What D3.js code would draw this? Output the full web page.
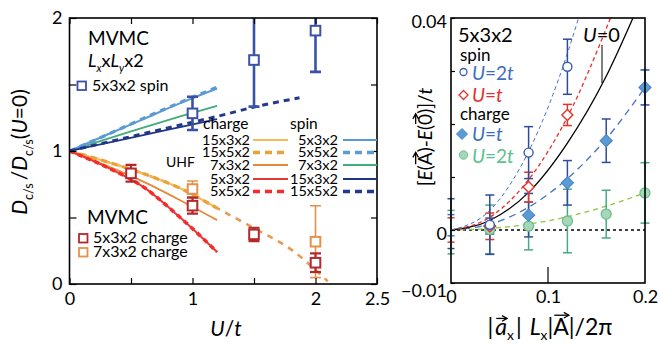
<!DOCTYPE html>
<html><head><meta charset="utf-8">
<script src="https://cdn.jsdelivr.net/npm/d3@7"></script>
<style>body{margin:0;background:#fff} text{font-family:Lato,'Open Sans',sans-serif}</style>
</head><body><script>
// ---------- LEFT PANEL DATA ----------
const leftXTicks = [0, 0.5, 1, 1.5, 2, 2.5];
const leftXLabels = [0, 1, 2, 2.5];
const leftYTicks = [0, 0.5, 1, 1.5, 2];
const leftYLabels = [0, 1, 2];

const mvmcSpinU = [1, 1.5, 2];
const mvmcSpinD = [1.283, 1.684, 1.905];
const mvmcSpinErr = [0.125, 0.35, 0.31];

const mvmcCharge5U = [0.5, 1, 1.5, 2];
const mvmcCharge5D = [0.832, 0.589, 0.373, 0.16];
const mvmcCharge5Err = [0.063, 0.06, 0.05, 0.07];

const mvmcCharge7U = [1, 2];
const mvmcCharge7D = [0.714, 0.318];
const mvmcCharge7Err = [0.06, 0.27];

const uhfU = [0, 0.3, 0.6, 0.9, 1.2];
const uhfCharge15x3 = [1, 0.92, 0.83, 0.72, 0.57];
const uhfCharge7x3 = [1, 0.89, 0.77, 0.63, 0.48];
const uhfCharge5x3 = [1, 0.88, 0.73, 0.5, 0.24];
const uhfCharge5x5 = [1, 0.88, 0.73, 0.5, 0.24];
const uhfSpin5x3 = [1, 1.12, 1.24, 1.36, 1.47];
const uhfSpin5x5 = [1, 1.12, 1.245, 1.365, 1.48];
const uhfSpin7x3 = [1, 1.09, 1.175, 1.26, 1.34];
const uhfSpin15x3 = [1, 1.06, 1.12, 1.18, 1.24];
const uhfChargeLongU = [0, 0.3, 0.6, 0.9, 1.2, 1.5, 1.8, 2.1];
const uhfCharge15x5 = [1, 0.92, 0.83, 0.72, 0.57, 0.42, 0.26, 0.02];
const uhfSpinLongU = [0, 0.3, 0.6, 0.9, 1.2, 1.5, 1.87];
const uhfSpin15x5 = [1, 1.065, 1.13, 1.195, 1.26, 1.33, 1.40];

const chargeNames = ["15x3x2", "15x5x2", "7x3x2", "5x3x2", "5x5x2"];
const spinNames = ["5x3x2", "5x5x2", "7x3x2", "15x3x2", "15x5x2"];

// ---------- RIGHT PANEL DATA ----------
const rightXTicks = [0, 0.1, 0.2];
const rightYTicks = [-0.01, 0, 0.01, 0.02, 0.03, 0.04];
const rightYLabels = [-0.01, 0, 0.04];

const spin2tQ = [0.04, 0.08, 0.12];
const spin2tE = [0.001, 0.0146, 0.0308];
const spin2tErr = [0.0056, 0.0049, 0.0052];

const spin1tQ = [0.04, 0.08, 0.12];
const spin1tE = [0.0007, 0.0081, 0.0217];
const spin1tErr = [0.0025, 0.0028, 0.002];

const charge1tQ = [0.04, 0.08, 0.12, 0.16, 0.2];
const charge1tE = [0.00075, 0.0028, 0.0089, 0.01685, 0.0269];
const charge1tErr = [0.0015, 0.0041, 0.0042, 0.0041, 0.0033];

const charge2tQ = [0.04, 0.08, 0.12, 0.16, 0.2];
const charge2tE = [0.0001, 0.00075, 0.0017, 0.003, 0.007];
const charge2tErr = [0.0046, 0.0045, 0.006, 0.0045, 0.0057];

// error bars at q = 0 (markers hidden)
const zeroE = [0.0012, 0.0009, 0.0, -0.0004];
const zeroErr = [0.0047, 0.002, 0.0023, 0.0041];

const fitU0Q = [0, 0.04, 0.08, 0.12, 0.16, 0.1876];
const fitU0E = [0, 0.0018, 0.0071, 0.0164, 0.029, 0.04];
const fitSpin2tQ = [0, 0.04, 0.08, 0.12, 0.1315];
const fitSpin2tE = [0, 0.0037, 0.0148, 0.0333, 0.04];
const fitSpin1tQ = [0, 0.04, 0.08, 0.12, 0.1644];
const fitSpin1tE = [0, 0.0024, 0.0095, 0.0213, 0.04];
const fitCharge1tQ = [0, 0.04, 0.08, 0.12, 0.16, 0.2];
const fitCharge1tE = [0, 0.0011, 0.0043, 0.0097, 0.0172, 0.0269];
const fitCharge2tQ = [0, 0.04, 0.08, 0.12, 0.16, 0.2];
const fitCharge2tE = [0, 0.0003, 0.0011, 0.0025, 0.0045, 0.007];

// ---------- SETUP ----------
const W = 660, H = 345;
const svg = d3.select("body").append("svg").attr("width", W).attr("height", H);
svg.append("rect").attr("width", W).attr("height", H).attr("fill", "#fff");
const FONT = "Lato,'Open Sans',sans-serif";

function rich(parent, parts, x, y, size, anchor, rotate, color) {
  const g = parent.append("g").attr("transform", `translate(${x},${y})` + (rotate ? ` rotate(${rotate})` : ""));
  const inner = g.append("g");
  let cx = 0;
  parts.forEach(p => {
    const fs = p.sub ? size * 0.6 : size;
    const dy = p.sub ? size * (p.subDy || 0.28) : 0;
    const t = inner.append("text").attr("x", cx).attr("y", dy)
      .attr("font-size", fs).attr("font-style", p.it ? "italic" : "normal")
      .attr("fill", p.color || color || "#000").text(p.t);
    const w = t.node().getComputedTextLength();
    if (p.arrow) {
      const ay = -size * (p.ah || 0.86), x0 = cx + (p.ax0 || 1), x1 = cx + w + (p.ax1 || 0);
      inner.append("line").attr("x1", x0).attr("x2", x1).attr("y1", ay).attr("y2", ay)
        .attr("stroke", "#000").attr("stroke-width", 1.3);
      inner.append("path").attr("d", `M${x1 - 5},${ay - 2.8}L${x1},${ay}L${x1 - 5},${ay + 2.8}`)
        .attr("fill", "none").attr("stroke", "#000").attr("stroke-width", 1.3);
    }
    cx += w + (p.sp || 0);
  });
  const shift = anchor === "middle" ? -cx / 2 : anchor === "end" ? -cx : 0;
  inner.attr("transform", `translate(${shift},0)`);
  return g;
}

// ---------- LEFT PANEL ----------
const xL = d3.scaleLinear().domain([0, 2.5]).range([69.5, 377]);
const yL = d3.scaleLinear().domain([0, 2]).range([284, 18]);
const gL = svg.append("g");
const defs = svg.append("defs");
defs.append("clipPath").attr("id", "clipL").append("rect")
  .attr("x", xL(0)).attr("y", yL(2)).attr("width", xL(2.5) - xL(0)).attr("height", yL(0) - yL(2));

const lineL = d3.line().x(d => xL(d[0])).y(d => yL(d[1])).curve(d3.curveMonotoneX);
const zip = (a, b) => a.map((v, i) => [v, b[i]]);
const plotL = gL.append("g").attr("clip-path", "url(#clipL)");

const C = {
  c15x3: "#f3bd55", c15x5: "#e8a236", c15x5ext: "#e99a52", c7x3: "#e48a3a", c5x3: "#e23a35", c5x5: "#fb2a2a",
  s5x3: "#5b9bd5", s5x5: "#5b9bd5", s7x3: "#43ad78", s15x3: "#1f3585", s15x5: "#22398f"
};
const uhfSeries = [
  { x: uhfChargeLongU, y: uhfCharge15x5, c: C.c15x5ext, w: 2.6, dash: "6,6" },
  { x: uhfU, y: uhfCharge15x3, c: C.c15x3, w: 2, dash: null },
  { x: uhfU, y: uhfCharge15x5, c: C.c15x5, w: 3.2, dash: "6,5" },
  { x: uhfU, y: uhfCharge7x3, c: C.c7x3, w: 1.8, dash: null },
  { x: uhfU, y: uhfCharge5x3, c: C.c5x3, w: 2, dash: null },
  { x: uhfU, y: uhfCharge5x5, c: C.c5x5, w: 3.5, dash: "5,4" },
  { x: uhfU, y: uhfSpin7x3, c: C.s7x3, w: 1.8, dash: null },
  { x: uhfU, y: uhfSpin5x3, c: C.s5x3, w: 2, dash: null },
  { x: uhfU, y: uhfSpin5x5, c: C.s5x5, w: 3.2, dash: "6,5" },
  { x: uhfSpinLongU, y: uhfSpin15x5, c: C.s15x5, w: 3, dash: "6,5" },
  { x: uhfU, y: uhfSpin15x3, c: C.s15x3, w: 1.8, dash: null },
];
uhfSeries.forEach(s => {
  plotL.append("path").attr("d", lineL(zip(s.x, s.y))).attr("fill", "none")
    .attr("stroke", s.c).attr("stroke-width", s.w).attr("stroke-dasharray", s.dash);
});

function errSquares(U, D, E, color, sw) {
  U.forEach((u, i) => {
    const x = xL(u);
    plotL.append("line").attr("x1", x).attr("x2", x).attr("y1", yL(D[i] - E[i])).attr("y2", yL(D[i] + E[i]))
      .attr("stroke", color).attr("stroke-width", sw);
    [D[i] - E[i], D[i] + E[i]].forEach(v => plotL.append("line").attr("x1", x - 5.5).attr("x2", x + 5.5)
      .attr("y1", yL(v)).attr("y2", yL(v)).attr("stroke", color).attr("stroke-width", sw));
    plotL.append("rect").attr("x", x - 4.8).attr("y", yL(D[i]) - 4.8).attr("width", 9.6).attr("height", 9.6)
      .attr("fill", "#fff").attr("stroke", color).attr("stroke-width", 2);
  });
}
errSquares(mvmcCharge7U, mvmcCharge7D, mvmcCharge7Err, "#e8904a", 1.6);
errSquares(mvmcCharge5U, mvmcCharge5D, mvmcCharge5Err, "#b3282c", 2.2);
errSquares(mvmcSpinU, mvmcSpinD, mvmcSpinErr, "#3a52a5", 2.6);

// axes left
const axLB = d3.axisBottom(xL).tickValues(leftXTicks).tickSizeInner(-6).tickSizeOuter(0).tickPadding(8)
  .tickFormat(v => leftXLabels.includes(v) ? String(v) : "");
const axLT = d3.axisTop(xL).tickValues(leftXTicks).tickSizeInner(-6).tickSizeOuter(0).tickFormat("");
const axLL = d3.axisLeft(yL).tickValues(leftYTicks).tickSizeInner(-7).tickSizeOuter(0).tickPadding(7)
  .tickFormat(v => leftYLabels.includes(v) ? String(v) : "");
const axLR = d3.axisRight(yL).tickValues(leftYTicks).tickSizeInner(-6).tickSizeOuter(0).tickFormat("");
[[axLB, `translate(0,${yL(0)})`], [axLT, `translate(0,${yL(2)})`], [axLL, `translate(${xL(0)},0)`], [axLR, `translate(${xL(2.5)},0)`]]
  .forEach(([ax, tr]) => {
    const g = gL.append("g").attr("transform", tr).call(ax);
    g.selectAll("text").attr("font-size", 18).attr("font-family", FONT).attr("fill", "#000");
    g.selectAll("line").attr("stroke", "#000").attr("stroke-width", 1.2);
    g.select(".domain").remove();
  });
gL.append("rect").attr("x", xL(0)).attr("y", yL(2)).attr("width", xL(2.5) - xL(0)).attr("height", yL(0) - yL(2))
  .attr("fill", "none").attr("stroke", "#000").attr("stroke-width", 1.6);

// left labels
rich(gL, [{ t: "U", it: true }, { t: "/" }, { t: "t", it: true }], 226, 336, 21, "middle");
rich(gL, [{ t: "D", it: true }, { t: "c/s", sub: true, sp: 3 }, { t: "/" }, { t: "D", it: true }, { t: "c/s", sub: true }, { t: "(" }, { t: "U", it: true }, { t: "=0)" }],
  27, 152, 21, "middle", -90);

// legends left
gL.append("text").attr("x", 88).attr("y", 45).attr("font-size", 19).text("MVMC");
rich(gL, [{ t: "L", it: true }, { t: "x", sub: true, it: true }, { t: "x" }, { t: "L", it: true }, { t: "y", sub: true, it: true }, { t: "x2" }], 88, 67, 18, "start");
gL.append("rect").attr("x", 77.5).attr("y", 81.5).attr("width", 8.5).attr("height", 8.5).attr("fill", "#fff").attr("stroke", "#3a52a5").attr("stroke-width", 1.8);
gL.append("text").attr("x", 92).attr("y", 91).attr("font-size", 16).text("5x3x2 spin");

gL.append("text").attr("x", 87).attr("y", 224).attr("font-size", 19).text("MVMC");
gL.append("rect").attr("x", 79).attr("y", 234).attr("width", 8.5).attr("height", 8.5).attr("fill", "#fff").attr("stroke", "#b3282c").attr("stroke-width", 1.8);
gL.append("text").attr("x", 93).attr("y", 243).attr("font-size", 16).text("5x3x2 charge");
gL.append("rect").attr("x", 79).attr("y", 248).attr("width", 8.5).attr("height", 8.5).attr("fill", "#fff").attr("stroke", "#e8904a").attr("stroke-width", 1.8);
gL.append("text").attr("x", 93).attr("y", 257).attr("font-size", 16).text("7x3x2 charge");

gL.append("text").attr("x", 166).attr("y", 167).attr("font-size", 14).text("UHF");
gL.append("text").attr("x", 203).attr("y", 129).attr("font-size", 15.5).text("charge");
gL.append("text").attr("x", 290).attr("y", 129).attr("font-size", 15.5).text("spin");
const rowY = [140, 152.5, 165, 179, 191.5];
const chargeStyle = [
  { c: C.c15x3, w: 2, dash: null }, { c: C.c15x5, w: 3.5, dash: "7,5" }, { c: C.c7x3, w: 1.8, dash: null },
  { c: C.c5x3, w: 2, dash: null }, { c: C.c5x5, w: 3.5, dash: "7,5" }];
const spinStyle = [
  { c: C.s5x3, w: 2, dash: null }, { c: C.s5x5, w: 3.5, dash: "7,5" }, { c: C.s7x3, w: 1.8, dash: null },
  { c: C.s15x3, w: 2, dash: null }, { c: C.s15x5, w: 3.5, dash: "7,5" }];
chargeNames.forEach((n, i) => {
  gL.append("text").attr("x", 250).attr("y", rowY[i] + 4.8).attr("text-anchor", "end").attr("font-size", 13.5)
    .attr("textLength", n.length === 6 ? 48 : 40).attr("lengthAdjust", "spacingAndGlyphs").text(n);
  gL.append("line").attr("x1", 253).attr("x2", 288).attr("y1", rowY[i]).attr("y2", rowY[i])
    .attr("stroke", chargeStyle[i].c).attr("stroke-width", chargeStyle[i].w).attr("stroke-dasharray", chargeStyle[i].dash);
});
spinNames.forEach((n, i) => {
  gL.append("text").attr("x", 338).attr("y", rowY[i] + 4.8).attr("text-anchor", "end").attr("font-size", 13.5)
    .attr("textLength", n.length === 6 ? 48 : 40).attr("lengthAdjust", "spacingAndGlyphs").text(n);
  gL.append("line").attr("x1", 343).attr("x2", 377).attr("y1", rowY[i]).attr("y2", rowY[i])
    .attr("stroke", spinStyle[i].c).attr("stroke-width", spinStyle[i].w).attr("stroke-dasharray", spinStyle[i].dash);
});

// ---------- RIGHT PANEL ----------
const xR = d3.scaleLinear().domain([0, 0.2]).range([451, 645]);
const yR = d3.scaleLinear().domain([-0.01, 0.04]).range([283, 18]);
const gR = svg.append("g");
defs.append("clipPath").attr("id", "clipR").append("rect")
  .attr("x", xR(0)).attr("y", yR(0.04)).attr("width", xR(0.2) - xR(0)).attr("height", yR(-0.01) - yR(0.04));
const plotR = gR.append("g").attr("clip-path", "url(#clipR)");
const lineR = d3.line().x(d => xR(d[0])).y(d => yR(d[1])).curve(d3.curveMonotoneX);

// zero line
plotR.append("line").attr("x1", xR(0)).attr("x2", xR(0.2)).attr("y1", yR(0)).attr("y2", yR(0))
  .attr("stroke", "#000").attr("stroke-width", 1.3).attr("stroke-dasharray", "3,3");

const RC = { spin2t: "#3a5fb0", spin2tErr: "#2f4c9c", spin1t: "#e2352c", ch1tFill: "#5b9bd5", ch1tStroke: "#4a86c8", ch1tErr: "#2f4c9c",
  ch2tFill: "#a6d7b8", ch2tStroke: "#6cbf8e", ch2tErr: "#4aa884", fitCh2t: "#8cc63f", fitBlue: "#4472c4", fitRed: "#ee2b2b" };

[[fitCharge2tQ, fitCharge2tE, RC.fitCh2t, "5,4", 1.3], [fitCharge1tQ, fitCharge1tE, RC.fitBlue, "7,5", 1.3],
 [fitU0Q, fitU0E, "#000", null, 1.3], [fitSpin1tQ, fitSpin1tE, RC.fitRed, "4,3", 1.3], [fitSpin2tQ, fitSpin2tE, RC.fitBlue, "4,3", 1]]
  .forEach(([q, e, c, dash, w]) => plotR.append("path").attr("d", lineR(zip(q, e))).attr("fill", "none")
    .attr("stroke", c).attr("stroke-width", w).attr("stroke-dasharray", dash));

// U=0 label and pointer
rich(gR, [{ t: "U", it: true }, { t: "=0" }], 583, 42, 20, "start");
gR.append("line").attr("x1", 602).attr("x2", 602).attr("y1", 45).attr("y2", 83).attr("stroke", "#000").attr("stroke-width", 1);

function errBars(Q, E, Er, color, cw) {
  Q.forEach((q, i) => {
    const x = xR(q);
    gR.append("line").attr("x1", x).attr("x2", x).attr("y1", yR(E[i] - Er[i])).attr("y2", yR(E[i] + Er[i]))
      .attr("stroke", color).attr("stroke-width", 1.5);
    [E[i] - Er[i], E[i] + Er[i]].forEach(v => gR.append("line").attr("x1", x - cw).attr("x2", x + cw)
      .attr("y1", yR(v)).attr("y2", yR(v)).attr("stroke", color).attr("stroke-width", 1.5));
  });
}
// q=0 bars
const zeroColors = [RC.spin2tErr, "#4a6fc0", RC.spin1t, RC.ch2tErr];
zeroE.forEach((e, i) => errBars([0], [e], [zeroErr[i]], zeroColors[i], 3.5));
errBars(charge2tQ, charge2tE, charge2tErr, RC.ch2tErr, 4.5);
errBars(charge1tQ, charge1tE, charge1tErr, RC.ch1tErr, 4.5);
errBars(spin1tQ, spin1tE, spin1tErr, RC.spin1t, 4.5);
errBars(spin2tQ, spin2tE, spin2tErr, RC.spin2tErr, 4.5);

const diamond = (x, y, r) => `M${x},${y - r}L${x + r},${y}L${x},${y + r}L${x - r},${y}Z`;
charge2tQ.forEach((q, i) => gR.append("circle").attr("cx", xR(q)).attr("cy", yR(charge2tE[i])).attr("r", 5)
  .attr("fill", RC.ch2tFill).attr("stroke", RC.ch2tStroke).attr("stroke-width", 1.3));
charge1tQ.forEach((q, i) => gR.append("path").attr("d", diamond(xR(q), yR(charge1tE[i]), 6))
  .attr("fill", RC.ch1tFill).attr("stroke", RC.ch1tStroke).attr("stroke-width", 1.2));
spin1tQ.forEach((q, i) => gR.append("path").attr("d", diamond(xR(q), yR(spin1tE[i]), 5.5))
  .attr("fill", "#fff").attr("stroke", RC.spin1t).attr("stroke-width", 1.4));
spin2tQ.forEach((q, i) => gR.append("circle").attr("cx", xR(q)).attr("cy", yR(spin2tE[i])).attr("r", 4.5)
  .attr("fill", "#fff").attr("stroke", RC.spin2t).attr("stroke-width", 1.4));

// axes right
const axRB = d3.axisBottom(xR).tickValues(rightXTicks).tickSizeInner(0).tickSizeOuter(0).tickPadding(7.5)
  .tickFormat(v => v === 0 ? "0" : d3.format(".1f")(v));
const axRL = d3.axisLeft(yR).tickValues(rightYTicks).tickSizeInner(-4).tickSizeOuter(0).tickPadding(4)
  .tickFormat(v => rightYLabels.includes(v) ? (v === 0 ? "0" : d3.format(".2f")(v)) : "");
const gRB = gR.append("g").attr("transform", `translate(0,${yR(-0.01)})`).call(axRB);
const gRL = gR.append("g").attr("transform", `translate(${xR(0)},0)`).call(axRL);
[gRB, gRL].forEach(g => {
  g.selectAll("text").attr("font-size", 18).attr("font-family", FONT).attr("fill", "#000");
  g.selectAll("line").attr("stroke", "#000").attr("stroke-width", 1.2);
  g.select(".domain").remove();
});
gRL.selectAll("text").attr("dy", v => v === -0.01 ? "0.75em" : "0.55em");
gR.append("line").attr("x1", xR(0.1)).attr("x2", xR(0.1)).attr("y1", yR(-0.01)).attr("y2", yR(-0.01) - 16)
  .attr("stroke", "#000").attr("stroke-width", 1.2);
gR.append("rect").attr("x", xR(0)).attr("y", yR(0.04)).attr("width", xR(0.2) - xR(0)).attr("height", yR(-0.01) - yR(0.04))
  .attr("fill", "none").attr("stroke", "#000").attr("stroke-width", 1.6);

// right labels
rich(gR, [{ t: "|" , sp: 2}, { t: "a", it: true, arrow: true, ah: 0.72 }, { t: "x", sub: true, sp: 2, subDy: 0.2 }, { t: "|", sp: 8 },
  { t: "L", it: true }, { t: "x", sub: true, subDy: 0.2 }, { t: "|" }, { t: "A", arrow: true, ah: 0.86 }, { t: "|/2π" }], 550, 335, 23, "middle");
rich(gR, [{ t: "[" }, { t: "E", it: true }, { t: "(" }, { t: "A", arrow: true }, { t: ")-" }, { t: "E", it: true }, { t: "(" }, { t: "0", arrow: true }, { t: ")]/" }, { t: "t", it: true }],
  432, 137, 19, "middle", -90);

// right legend
gR.append("text").attr("x", 458).attr("y", 42).attr("font-size", 20).text("5x3x2");
gR.append("text").attr("x", 460).attr("y", 61).attr("font-size", 17).text("spin");
gR.append("circle").attr("cx", 463.5).attr("cy", 72).attr("r", 3.5).attr("fill", "#fff").attr("stroke", RC.spin2t).attr("stroke-width", 1.3);
rich(gR, [{ t: "U", it: true }, { t: "=2" }, { t: "t", it: true }], 472, 80, 19, "start", 0, "#3e6cc0");
gR.append("path").attr("d", diamond(463.5, 95, 4.5)).attr("fill", "#fff").attr("stroke", RC.spin1t).attr("stroke-width", 1.3);
rich(gR, [{ t: "U", it: true }, { t: "=" }, { t: "t", it: true }], 472, 102, 19, "start", 0, "#e03030");
gR.append("text").attr("x", 460).attr("y", 120).attr("font-size", 17).text("charge");
gR.append("path").attr("d", diamond(462, 134, 5.5)).attr("fill", RC.ch1tFill).attr("stroke", RC.ch1tStroke).attr("stroke-width", 1);
rich(gR, [{ t: "U", it: true }, { t: "=" }, { t: "t", it: true }], 472, 141, 19, "start", 0, "#3e6cc0");
gR.append("circle").attr("cx", 463.5).attr("cy", 155).attr("r", 4.2).attr("fill", RC.ch2tFill).attr("stroke", RC.ch2tStroke).attr("stroke-width", 1);
rich(gR, [{ t: "U", it: true }, { t: "=2" }, { t: "t", it: true }], 472, 163, 19, "start", 0, "#5bbf8e");
</script></body></html>
